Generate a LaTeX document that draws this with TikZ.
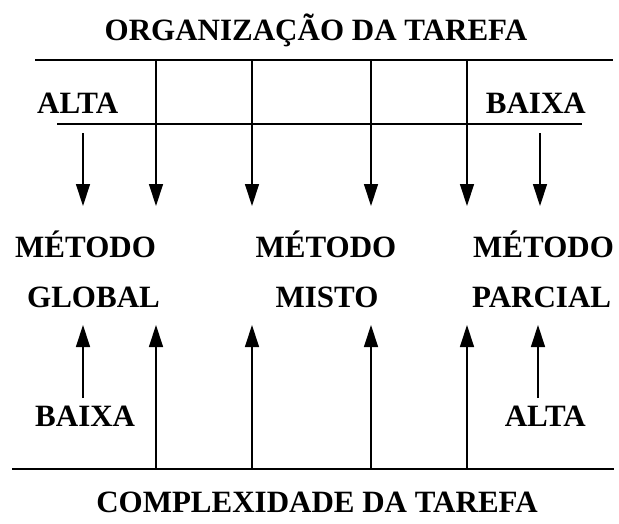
\documentclass[tikz,border=0pt]{standalone}
\usepackage{fontspec}
\setmainfont{Liberation Serif}
\usetikzlibrary{arrows.meta}
\tikzset{
  lbl/.style={inner sep=0pt, font=\fontsize{31}{36}\selectfont\bfseries},
  axis/.style={line width=1.5pt},
  axisthick/.style={line width=2.6pt},
  arr/.style={line width=1.3pt, -{Triangle[length=22pt,width=14pt]}}
}
\begin{document}
\begin{tikzpicture}[x=1pt,y=-1pt]
\useasboundingbox (0,0) rectangle (619,523);
% titles
\node[lbl, anchor=base] (t1) at (316,40) {ORGANIZAÇÃO DA TAREFA};
\node[lbl, anchor=base] (t2) at (317,512) {COMPLEXIDADE DA TAREFA};
% level labels
\node[lbl, anchor=base west] (alta1) at (37,113) {ALTA};
\node[lbl, anchor=base east] (baixa1) at (586,113) {BAIXA};
\node[lbl, anchor=base west] (baixa2) at (35,426) {BAIXA};
\node[lbl, anchor=base east] (alta2) at (586,426) {ALTA};
% methods
\node[lbl, anchor=base west] (m1) at (15,257) {MÉTODO};
\node[lbl, anchor=base west] (g1) at (27,307) {GLOBAL};
\node[lbl, anchor=base] (m2) at (326,257) {MÉTODO};
\node[lbl, anchor=base] (g2) at (327,307) {MISTO};
\node[lbl, anchor=base west] (m3) at (473,257) {MÉTODO};
\node[lbl, anchor=base west] (g3) at (472,307) {PARCIAL};
% horizontal lines
\coordinate (topL) at (35,60);
\coordinate (topR) at (613,60);
\coordinate (midL) at (57,124);
\coordinate (midR) at (582,124);
\coordinate (botL) at (12,469);
\coordinate (botR) at (614,469);
\draw[axis] (topL) -- (topR);
\draw[axisthick] (midL) -- (midR);
\draw[axis] (botL) -- (botR);
% long arrows
\foreach \x/\n in {156/a,252/b,371/c,467/d}{
  \coordinate (s\n) at (\x,60);
  \coordinate (e\n) at (\x,206);
  \coordinate (u\n) at (\x,469);
  \coordinate (v\n) at (\x,325);
  \draw[arr] (s\n) -- (e\n);
  \draw[arr] (u\n) -- (v\n);
}
% short arrows
\coordinate (sa1) at (83,133);
\coordinate (ea1) at (83,206);
\coordinate (sa2) at (540,133);
\coordinate (ea2) at (540,206);
\coordinate (sb1) at (83,398);
\coordinate (eb1) at (83,325);
\coordinate (sb2) at (538,398);
\coordinate (eb2) at (538,325);
\draw[arr] (sa1) -- (ea1);
\draw[arr] (sa2) -- (ea2);
\draw[arr] (sb1) -- (eb1);
\draw[arr] (sb2) -- (eb2);
\end{tikzpicture}
\end{document}
